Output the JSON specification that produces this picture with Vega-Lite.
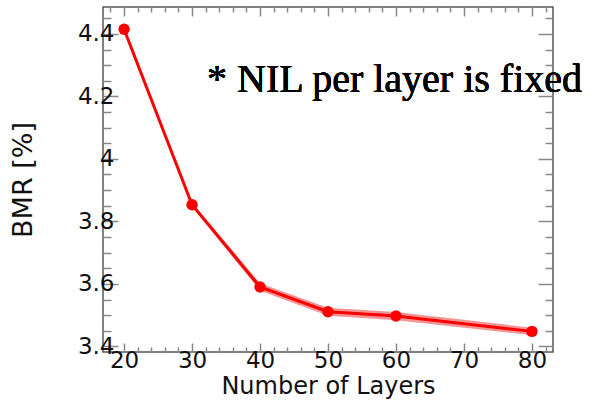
{
  "$schema": "https://vega.github.io/schema/vega-lite/v6.json",
  "autosize": "none",
  "width": 450,
  "height": 345,
  "padding": {"left": 103, "top": 7, "right": 61, "bottom": 55},
  "background": "white",
  "config": {
    "view": {"stroke": "#555555", "strokeWidth": 1.5},
    "axis": {
      "domain": false, "grid": false,
      "labelFont": "DejaVu Sans", "labelFontSize": 23, "labelColor": "#111111",
      "titleFont": "DejaVu Sans", "titleFontWeight": "normal", "titleColor": "#111111", "titleFontSize": 27,
      "tickColor": "#888888", "tickWidth": 1.5
    }
  },
  "data": {"values": [
    {"layers": 20, "bmr": 4.415, "lo": 4.412, "hi": 4.418},
    {"layers": 30, "bmr": 3.853, "lo": 3.846, "hi": 3.860},
    {"layers": 40, "bmr": 3.590, "lo": 3.578, "hi": 3.602},
    {"layers": 50, "bmr": 3.511, "lo": 3.498, "hi": 3.524},
    {"layers": 60, "bmr": 3.497, "lo": 3.484, "hi": 3.510},
    {"layers": 80, "bmr": 3.448, "lo": 3.436, "hi": 3.460}
  ]},
  "resolve": {"axis": {"x": "independent", "y": "independent"}},
  "layer": [
    {
      "mark": {"type": "area", "color": "#f28282", "opacity": 0.85},
      "encoding": {
        "x": {"field": "layers", "type": "quantitative",
              "scale": {"domain": [16.9, 83.1], "nice": false, "zero": false},
              "axis": {"orient": "bottom", "values": [20, 30, 40, 50, 60, 70, 80], "tickSize": -9, "labelPadding": 6,
                       "title": "Number of Layers", "titleFontSize": 24, "titlePadding": 2}},
        "y": {"field": "lo", "type": "quantitative",
              "scale": {"domain": [3.382, 4.486], "nice": false, "zero": false},
              "axis": {"orient": "left", "values": [3.4, 3.6, 3.8, 4.0, 4.2, 4.4], "format": ".1~f", "tickSize": -15, "labelPadding": 4,
                       "title": "BMR [%]", "titleFontSize": 27, "titlePadding": 40}},
        "y2": {"field": "hi"}
      }
    },
    {
      "mark": {"type": "line", "color": "#ff0000", "strokeWidth": 3},
      "encoding": {
        "x": {"field": "layers", "type": "quantitative", "axis": null},
        "y": {"field": "bmr", "type": "quantitative", "axis": null}
      }
    },
    {
      "mark": {"type": "point", "filled": true, "color": "#ff0000", "opacity": 1, "size": 130},
      "encoding": {
        "x": {"field": "layers", "type": "quantitative", "axis": null},
        "y": {"field": "bmr", "type": "quantitative", "axis": null}
      }
    },
    {
      "mark": {"type": "text", "text": "* NIL per layer is fixed", "font": "Liberation Serif", "fontSize": 40, "align": "left", "baseline": "alphabetic", "color": "#000000"},
      "encoding": {
        "x": {"datum": 32.2, "type": "quantitative", "axis": null},
        "y": {"datum": 4.214, "type": "quantitative", "axis": null}
      }
    },
    {
      "mark": {"type": "point", "opacity": 0},
      "encoding": {
        "x": {"field": "layers", "type": "quantitative",
              "axis": {"orient": "bottom", "values": [18, 22, 24, 26, 28, 32, 34, 36, 38, 42, 44, 46, 48, 52, 54, 56, 58, 62, 64, 66, 68, 72, 74, 76, 78, 82], "tickSize": -5, "labels": false, "title": null}},
        "y": {"field": "bmr", "type": "quantitative",
              "axis": {"orient": "left", "values": [3.45, 3.5, 3.55, 3.65, 3.7, 3.75, 3.85, 3.9, 3.95, 4.05, 4.1, 4.15, 4.25, 4.3, 4.35, 4.45], "tickSize": -8, "labels": false, "title": null}}
      }
    },
    {
      "mark": {"type": "point", "opacity": 0},
      "encoding": {
        "x": {"field": "layers", "type": "quantitative",
              "axis": {"orient": "top", "values": [20, 30, 40, 50, 60, 70, 80], "tickSize": -9, "labels": false, "title": null}},
        "y": {"field": "bmr", "type": "quantitative",
              "axis": {"orient": "right", "values": [3.4, 3.6, 3.8, 4.0, 4.2, 4.4], "tickSize": -15, "labels": false, "title": null}}
      }
    },
    {
      "mark": {"type": "point", "opacity": 0},
      "encoding": {
        "x": {"field": "layers", "type": "quantitative",
              "axis": {"orient": "top", "values": [18, 22, 24, 26, 28, 32, 34, 36, 38, 42, 44, 46, 48, 52, 54, 56, 58, 62, 64, 66, 68, 72, 74, 76, 78, 82], "tickSize": -5, "labels": false, "title": null}},
        "y": {"field": "bmr", "type": "quantitative",
              "axis": {"orient": "right", "values": [3.45, 3.5, 3.55, 3.65, 3.7, 3.75, 3.85, 3.9, 3.95, 4.05, 4.1, 4.15, 4.25, 4.3, 4.35, 4.45], "tickSize": -8, "labels": false, "title": null}}
      }
    }
  ]
}
